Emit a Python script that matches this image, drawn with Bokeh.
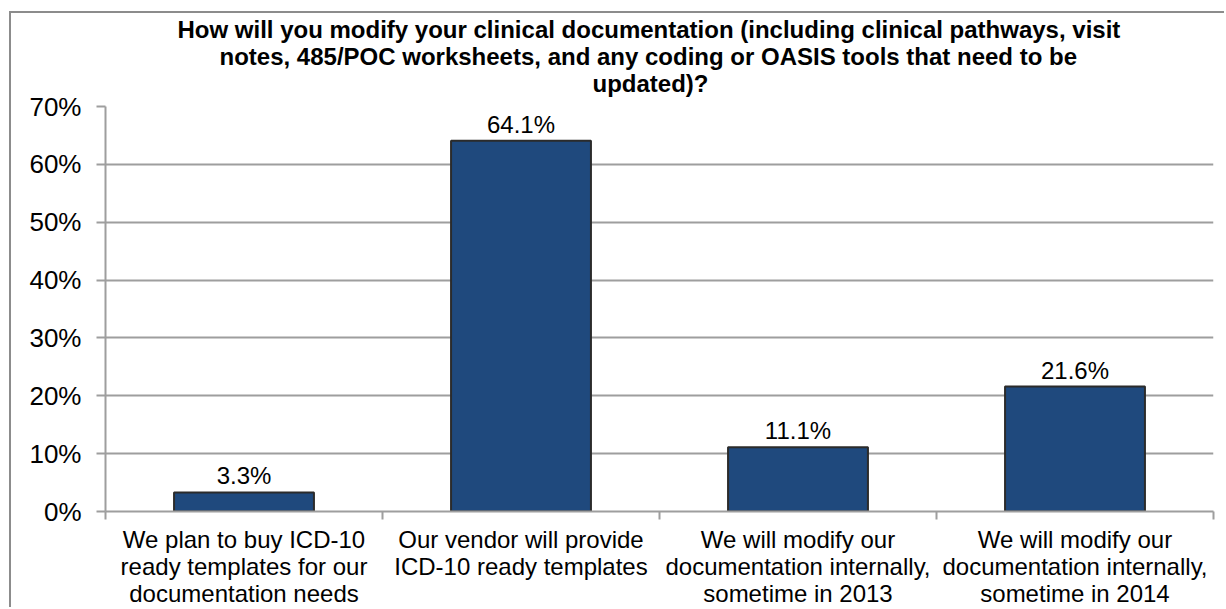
from bokeh.plotting import figure
from bokeh.models import Title, FixedTicker, NumeralTickFormatter, ColumnDataSource, Range1d
from bokeh.core.properties import value
from bokeh.embed import file_html
from bokeh.resources import INLINE

# ---- data ----
title_lines = [
    "How will you modify your clinical documentation (including clinical pathways, visit",
    "notes, 485/POC worksheets, and any coding or OASIS tools that need to be",
    "updated)?",
]
categories = [
    "We plan to buy ICD-10\nready templates for our\ndocumentation needs",
    "Our vendor will provide\nICD-10 ready templates",
    "We will modify our\ndocumentation internally,\nsometime in 2013",
    "We will modify our\ndocumentation internally,\nsometime in 2014",
]
values = [0.033, 0.641, 0.111, 0.216]
y_ticks = [0.0, 0.1, 0.2, 0.3, 0.4, 0.5, 0.6, 0.7]

FONT = "Liberation Sans"
GRID = "#9e9e9e"
BAR = "#1F497D"

xs = [i + 0.5 for i in range(len(categories))]
bounds = [float(i) for i in range(len(categories) + 1)]
src = ColumnDataSource(dict(
    x=xs, v=values, lbl=[f"{v*100:.1f}%" for v in values]
))

p = figure(
    width=1215, height=596,
    x_range=Range1d(0, len(categories)), y_range=Range1d(0, 0.7),
    output_backend="svg", toolbar_location=None,
    min_border_left=94, min_border_right=13, min_border_top=93, min_border_bottom=96,
)
p.styles = {"border-left": "2px solid #8c8c8c", "border-top": "2px solid #8c8c8c",
            "border-right": "none", "border-bottom": "none",
            "margin-left": "9px", "margin-top": "11px"}
p.outline_line_color = None
p.background_fill_color = "white"
p.border_fill_color = "white"

# spacer between title and plot area (nearest to the frame)
p.add_layout(Title(text=" ", text_font=FONT, text_font_size="8px", standoff=0), "above")
# title lines, left edges as in the reference
title_offsets = [72, 114, 487]
for line, off in reversed(list(zip(title_lines, title_offsets))):
    p.add_layout(Title(text=line, align="left", offset=off, text_font=FONT,
                       text_font_size="24px", text_font_style="bold", text_color="black",
                       standoff=-2), "above")

p.vbar(x="x", top="v", width=0.505, source=src, fill_color=BAR,
       line_color="#2b2b2b", line_width=2)
p.text(x="x", y="v", text="lbl", source=src, text_align="center", text_baseline="bottom",
       y_offset=-3, text_font=value(FONT), text_font_size="24px", text_color="black")

# y axis
ya = p.yaxis[0]
ya.ticker = FixedTicker(ticks=y_ticks)
ya.formatter = NumeralTickFormatter(format="0%")
ya.major_label_text_font = FONT
ya.major_label_text_font_size = "26px"
ya.major_label_text_color = "black"
ya.major_tick_in = 0
ya.major_tick_out = 9
ya.major_tick_line_color = GRID
ya.major_tick_line_width = 2
ya.minor_tick_line_color = None
ya.axis_line_color = GRID
ya.axis_line_width = 2
ya.major_label_standoff = 15

# x axis
xa = p.xaxis[0]
xa.ticker = FixedTicker(ticks=xs, minor_ticks=bounds)
xa.major_label_overrides = {x: c for x, c in zip(xs, categories)}
xa.major_label_text_font = FONT
xa.major_label_text_font_size = "24px"
xa.major_label_text_color = "black"
xa.major_label_text_line_height = 1.0
xa.major_tick_line_color = None
xa.major_tick_out = 0
xa.minor_tick_in = 0
xa.minor_tick_out = 8
xa.minor_tick_line_color = GRID
xa.minor_tick_line_width = 2
xa.axis_line_color = GRID
xa.axis_line_width = 2
xa.major_label_standoff = 6

p.xgrid.grid_line_color = None
p.ygrid.ticker = FixedTicker(ticks=y_ticks)
p.ygrid.grid_line_color = GRID
p.ygrid.grid_line_width = 2

open("out.html", "w").write(file_html(p, INLINE))
